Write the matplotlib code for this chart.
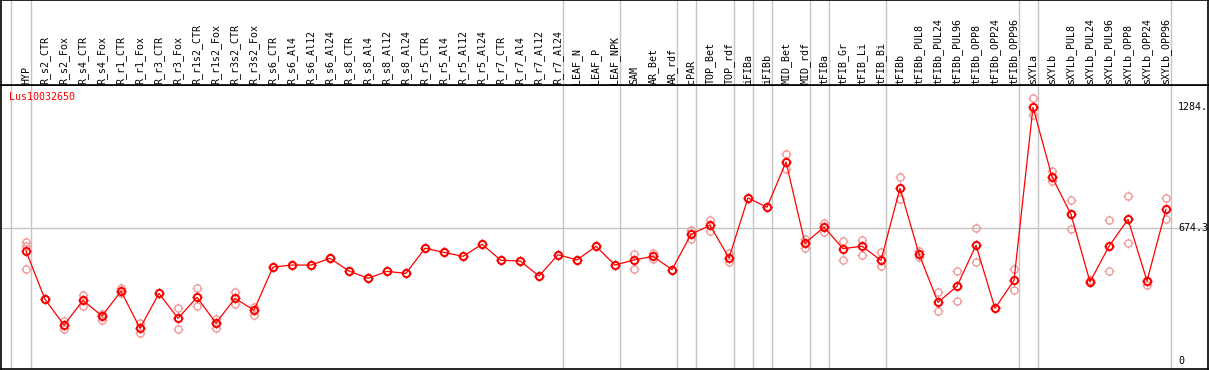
import numpy as np
import matplotlib.pyplot as plt
from matplotlib.path import Path

labels = ['HYP', 'R_s2_CTR', 'R_s2_Fox', 'R_s4_CTR', 'R_s4_Fox', 'R_r1_CTR', 'R_r1_Fox',
          'R_r3_CTR', 'R_r3_Fox', 'R_r1s2_CTR', 'R_r1s2_Fox', 'R_r3s2_CTR', 'R_r3s2_Fox',
          'R_s6_CTR', 'R_s6_Al4', 'R_s6_Al12', 'R_s6_Al24', 'R_s8_CTR', 'R_s8_Al4',
          'R_s8_Al12', 'R_s8_Al24', 'R_r5_CTR', 'R_r5_Al4', 'R_r5_Al12', 'R_r5_Al24',
          'R_r7_CTR', 'R_r7_Al4', 'R_r7_Al12', 'R_r7_Al24', 'LEAF_N', 'LEAF_P', 'LEAF_NPK',
          'SAM', 'AR_Bet', 'AR_rdf', 'cPAR', 'TOP_Bet', 'TOP_rdf', 'iFIBa', 'iFIBb',
          'MID_Bet', 'MID_rdf', 'tFIBa', 'tFIB_Gr', 'tFIB_Li', 'tFIB_Bi', 'tFIBb',
          'tFIBb_PUL8', 'tFIBb_PUL24', 'tFIBb_PUL96', 'tFIBb_OPP8', 'tFIBb_OPP24',
          'tFIBb_OPP96', 'sXYLa', 'sXYLb', 'sXYLb_PUL8', 'sXYLb_PUL24', 'sXYLb_PUL96',
          'sXYLb_OPP8', 'sXYLb_OPP24', 'sXYLb_OPP96']

means = [558, 314, 184, 309, 230, 355, 168, 344, 218, 324, 194, 319, 259,
         477, 487, 487, 521, 457, 420, 455, 445, 572, 551, 531, 592, 511, 508, 432, 539,
         513, 582, 487, 513, 531, 464, 642, 688, 523, 826, 779, 1008, 597, 679,
         570, 582, 511, 875, 543, 299, 380, 587, 269, 410, 1284, 933, 743, 402,
         582, 718, 407, 769]

rep_hi = [602, 314, 206, 337, 241, 370, 193, 344, 269, 370, 216, 349, 277,
          477, 487, 487, 521, 457, 420, 455, 445, 572, 551, 531, 592, 511, 508, 432, 539,
          513, 582, 487, 543, 546, 464, 666, 713, 546, 826, 779, 1048, 620, 701,
          607, 612, 553, 932, 560, 349, 455, 673, 269, 466, 1329, 964, 814, 412,
          713, 834, 407, 824]

rep_mid = [585, 314, 184, 309, 230, 355, 168, 344, 218, 324, 194, 319, 259,
           477, 487, 487, 521, 457, 420, 455, 445, 572, 551, 531, 592, 511, 508, 432, 539,
           513, 582, 487, 513, 531, 464, 642, 688, 523, 826, 779, 1008, 597, 679,
           570, 582, 511, 875, 543, 299, 380, 587, 269, 410, 1284, 933, 743, 402,
           582, 718, 407, 769]

rep_lo = [466, 314, 164, 282, 210, 344, 145, 344, 166, 282, 171, 292, 233,
          477, 487, 487, 521, 457, 420, 455, 445, 572, 551, 531, 592, 511, 508, 432, 539,
          513, 582, 487, 469, 516, 464, 620, 661, 501, 826, 779, 971, 573, 653,
          511, 539, 484, 819, 529, 254, 304, 503, 269, 360, 1245, 913, 668, 402,
          455, 597, 388, 718]

# last column index of each sample group
group_last = [0, 28, 31, 34, 35, 37, 38, 39, 41, 42, 45, 52, 53, 60]

y_ticks = [1284.6, 674.3, 0]
y_tick_labels = ['1284.', '674.3', '0']
gene = 'Lus10032650'

W, H = 1209, 370
fig = plt.figure(figsize=(W / 100, H / 100), dpi=100)


def px_axes(left, top, right, bottom):
    return fig.add_axes([left / W, 1 - bottom / H, (right - left) / W, (bottom - top) / H])


ax = px_axes(1, 85, 1208, 369)
hdr = px_axes(1, 0, 1208, 85)

x = np.arange(len(labels))
xlim = ((1 - 26) / 19, (1208 - 26) / 19)
mono = 'DejaVu Sans Mono'
grid_c = '#c4c4c4'

for a in (ax, hdr):
    a.set_xlim(*xlim)
    a.set_xticks([])
    a.set_yticks([])
    for s in a.spines.values():
        s.set_color('black')
        s.set_linewidth(1.2)
    a.axvline(-0.8, color=grid_c, lw=1, zorder=0)
    for g in group_last:
        a.axvline(g + 0.25, color=grid_c, lw=1, zorder=0)

ax.set_ylim((361.5 - 369) / 0.198, (361.5 - 85) / 0.198)
ax.axhline(674.3, color=grid_c, lw=1, zorder=0)

hdr.set_ylim(85, 0)
for i, lab in enumerate(labels):
    hdr.text(i, 83.5, lab, rotation=90, ha='center', va='bottom',
             fontsize=7.2, family=mono, color='black')

# circle with small cross ticks, like the original markers
ticks = Path([(0, 0.7), (0, 1), (0, -0.7), (0, -1), (0.7, 0), (1, 0), (-0.7, 0), (-1, 0)],
             [Path.MOVETO, Path.LINETO] * 4)

pink = '#f09a9a'
for reps in (rep_hi, rep_mid, rep_lo):
    ax.plot(x, reps, ls='none', marker='o', ms=5.2, mfc='none', mec=pink, mew=1.0, zorder=2)
    ax.plot(x, reps, ls='none', marker=ticks, ms=7.0, mec=pink, mew=0.8, zorder=2)

ax.plot(x, means, color='red', lw=0.9, zorder=3)
ax.plot(x, means, ls='none', marker='o', ms=5.2, mfc='none', mec='red', mew=1.4, zorder=4)
ax.plot(x, means, ls='none', marker=ticks, ms=7.2, mec='red', mew=1.0, zorder=4)

ytr = ax.get_yaxis_transform()
for v, s in zip(y_ticks, y_tick_labels):
    ax.text((1178 - 1) / 1207, v, s, transform=ytr, ha='left', va='center',
            fontsize=7.2, family=mono, color='black')

ax.text((9 - 1) / 1207, (361.5 - 97) / 0.198, gene, transform=ytr, ha='left', va='center',
        fontsize=7.2, family=mono, color='red')

plt.savefig('out.png', dpi=100)
